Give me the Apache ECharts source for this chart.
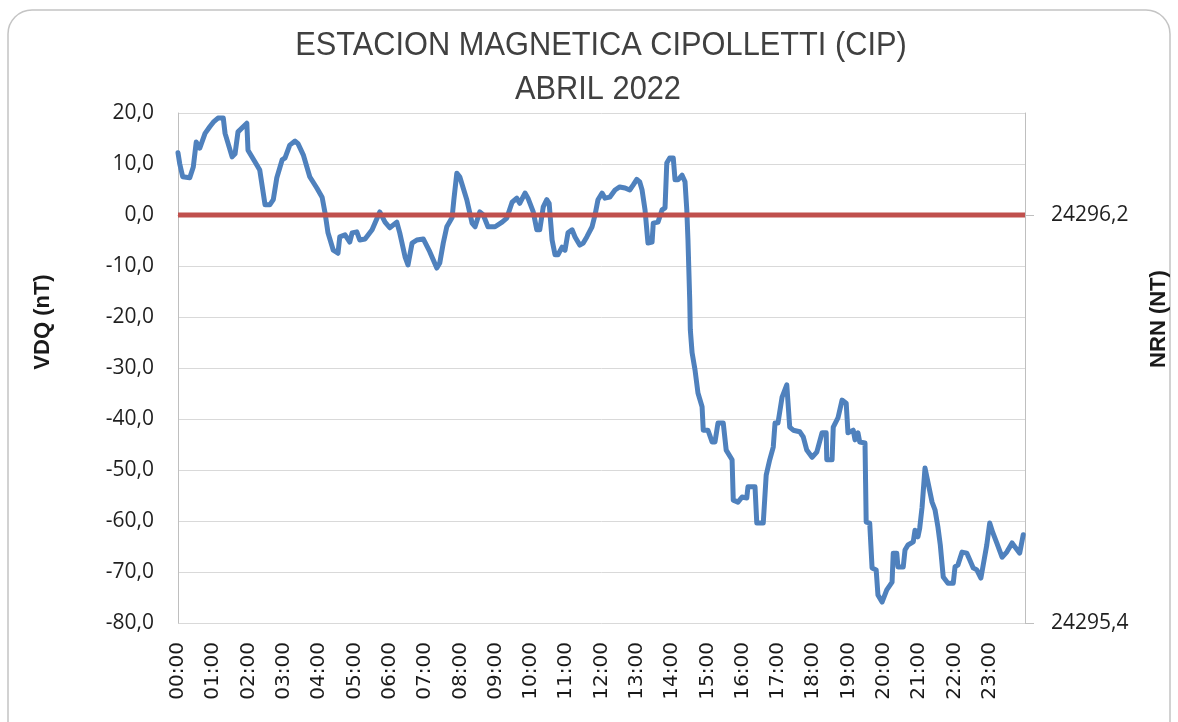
<!DOCTYPE html>
<html>
<head>
<meta charset="utf-8">
<script src="https://cdn.jsdelivr.net/npm/echarts@6/dist/echarts.min.js"></script>
<style>
html,body{margin:0;padding:0;background:#fff;}
#chart{width:1178px;height:722px;}
</style>
</head>
<body>
<div id="chart"></div>
<script>
// Time of each reading, minutes after 00:00
var minutes = [0,3,8,20,26,31,37,46,54,60,68,77,80,92,97,102,117,119,131,139,148,156,162,168,177,182,190,199,204,213,224,236,245,250,255,264,272,275,284,292,296,304,309,318,330,343,352,360,372,377,386,391,398,406,417,428,440,445,451,457,466,469,474,479,491,500,505,513,519,527,539,551,559,568,576,581,590,595,604,610,615,621,627,631,636,641,646,653,658,663,670,675,683,689,695,704,709,714,721,726,734,743,751,760,768,774,780,785,789,794,799,806,808,816,823,828,831,836,842,845,850,857,862,865,867,870,871,874,879,884,891,893,901,908,913,918,927,932,942,944,952,959,967,969,981,984,995,1000,1006,1012,1015,1020,1027,1035,1040,1046,1057,1063,1069,1078,1086,1095,1102,1103,1112,1114,1122,1129,1136,1139,1148,1151,1156,1159,1168,1169,1170,1176,1180,1187,1190,1197,1205,1214,1216,1222,1224,1233,1236,1241,1250,1253,1258,1261,1265,1270,1275,1282,1287,1292,1296,1301,1309,1318,1321,1326,1333,1341,1346,1352,1358,1365,1369,1375,1380,1385,1392,1401,1409,1418,1423,1431,1437];
// VDQ values (nT)
var vdq = [12.2,10,7.5,7.3,9.4,14.3,13.1,16,17.3,18.2,19,19,16,11.4,12,16.3,18,12.7,10.4,8.8,2,2,3,7.3,10.8,11.2,13.7,14.5,14,11.8,7.5,5.3,3.5,0.4,-3.5,-6.9,-7.5,-4.3,-3.9,-5.3,-3.5,-3.3,-4.9,-4.7,-2.9,0.6,-1.4,-2.5,-1.4,-3.5,-8.2,-9.8,-5.5,-4.9,-4.7,-7.2,-10.4,-9.4,-5.5,-2.3,-0.5,3,8.2,7.5,3,-1.6,-2.3,0.6,0,-2.3,-2.3,-1.4,-0.6,2.5,3.3,2.3,4.3,3.3,0.6,-2.9,-2.9,1.6,3,2.3,-4.9,-7.8,-7.8,-6.3,-6.9,-3.5,-2.9,-4.3,-5.9,-5.5,-4.3,-2.3,0,3,4.3,3.3,3.5,4.9,5.5,5.3,4.9,5.9,7,6.5,4.9,1,-5.5,-5.3,-1.6,-1.4,1,1.4,10.2,11.2,11.2,6.9,6.9,7.8,6.5,1,-4.9,-16.7,-22.5,-27,-30.4,-34.9,-37.6,-42.2,-42.2,-44.5,-44.5,-40.8,-40.8,-46.1,-48,-55.9,-56.3,-55.3,-55.5,-53.3,-53.3,-60.4,-60.4,-51,-48,-45.5,-40.8,-40.8,-35.7,-33.3,-41.6,-42.2,-42.5,-43.5,-46.1,-47.5,-46.5,-42.7,-42.7,-48,-48,-41.6,-39.8,-36.3,-36.9,-42.7,-42.2,-44.1,-42.7,-44.5,-44.7,-52.5,-60.2,-60.4,-69.2,-69.6,-74.5,-75.9,-73.5,-72,-66.3,-66.3,-69,-69,-65.7,-64.7,-64.1,-61.8,-63.1,-61.4,-57.3,-49.6,-52.4,-56.3,-57.8,-61.2,-64.7,-71,-72.2,-72.2,-69,-68.6,-66.1,-66.3,-67.6,-69.2,-69.6,-71.2,-68.6,-64.7,-60.4,-62.2,-64.3,-67.1,-66.1,-64.3,-65.1,-66.3,-62.7];
// Reference (zero) line
var refMinutes = [0, 1440];
var refValues = [0, 0];
// Tick labels
var hourLabels = ['00:00','01:00','02:00','03:00','04:00','05:00','06:00','07:00','08:00','09:00','10:00','11:00','12:00','13:00','14:00','15:00','16:00','17:00','18:00','19:00','20:00','21:00','22:00','23:00'];
var rightTickValues = [-80, 0];
var rightTickLabels = ['24295,4', '24296,2'];
var titleLines = ['ESTACION MAGNETICA CIPOLLETTI (CIP)', 'ABRIL 2022'];
var leftName = 'VDQ (nT)';
var rightName = 'NRN (NT)';

var chart = echarts.init(document.getElementById('chart'), null, {renderer: 'canvas'});

var option = {
  animation: false,
  backgroundColor: '#ffffff',
  grid: {left: 178, right: 153, top: 113, bottom: 99, containLabel: false},
  xAxis: {
    type: 'value', min: 0, max: 1440, interval: 60,
    axisLine: {show: true, lineStyle: {color: '#bfbfbf', width: 1}},
    axisTick: {show: false},
    splitLine: {show: false},
    axisLabel: {
      rotate: 90, margin: 19, showMaxLabel: false,
      fontFamily: 'DejaVu Sans', fontSize: 20, color: '#1a1a1a',
      formatter: function (v) { return hourLabels[Math.round(v / 60)] || ''; }
    }
  },
  yAxis: [{
    type: 'value', min: -80, max: 20, interval: 10, position: 'left',
    axisLine: {show: true, lineStyle: {color: '#bfbfbf', width: 1}},
    axisTick: {show: false},
    splitLine: {show: true, lineStyle: {color: '#d9d9d9', width: 1}},
    axisLabel: {
      margin: 24, fontFamily: 'Open Sans', fontSize: 21, color: '#1f1f1f',
      formatter: function (v) { return v.toFixed(1).replace('.', ','); }
    }
  }, {
    type: 'value', min: -80, max: 20, position: 'right',
    axisLine: {show: true, lineStyle: {color: '#bfbfbf', width: 1}},
    axisTick: {show: true, length: 9, customValues: rightTickValues, lineStyle: {color: '#bfbfbf'}},
    splitLine: {show: false},
    axisLabel: {
      margin: 26, fontFamily: 'Open Sans', fontSize: 21, color: '#1f1f1f',
      customValues: rightTickValues,
      formatter: function (v) {
        var i = rightTickValues.indexOf(Math.round(v));
        return i >= 0 ? rightTickLabels[i] : '';
      }
    }
  }],
  series: [{
    type: 'line', name: 'VDQ', yAxisIndex: 0,
    data: minutes.map(function (m, i) { return [m, vdq[i]]; }),
    symbol: 'none', smooth: false,
    lineStyle: {color: '#4f81bd', width: 5, cap: 'round', join: 'round'},
    z: 2
  }, {
    type: 'line', name: 'ref', yAxisIndex: 0,
    data: refMinutes.map(function (m, i) { return [m, refValues[i]]; }),
    symbol: 'none',
    lineStyle: {color: '#c0504d', width: 5},
    z: 3
  }],
  graphic: [
    {type: 'rect', shape: {x: 8, y: 10, width: 1162, height: 740, r: 24},
     style: {fill: 'none', stroke: '#c4c4c4', lineWidth: 1.5}, silent: true, z: -1},
    {type: 'text', x: 601, y: 46, scaleX: 0.905,
     style: {text: titleLines[0], fontFamily: 'Liberation Sans', fontSize: 34, fill: '#404040', textAlign: 'center', textVerticalAlign: 'middle'}},
    {type: 'text', x: 598, y: 90, scaleX: 0.905,
     style: {text: titleLines[1], fontFamily: 'Liberation Sans', fontSize: 34, fill: '#404040', textAlign: 'center', textVerticalAlign: 'middle'}},
    {type: 'text', x: 43, y: 322, rotation: Math.PI / 2,
     style: {text: leftName, fontFamily: 'Liberation Sans', fontWeight: 'bold', fontSize: 22, fill: '#1a1a1a', textAlign: 'center', textVerticalAlign: 'middle'}},
    {type: 'text', x: 1159, y: 319, rotation: Math.PI / 2,
     style: {text: rightName, fontFamily: 'Liberation Sans', fontWeight: 'bold', fontSize: 22, fill: '#1a1a1a', textAlign: 'center', textVerticalAlign: 'middle'}}
  ]
};
chart.setOption(option);
</script>
</body>
</html>
